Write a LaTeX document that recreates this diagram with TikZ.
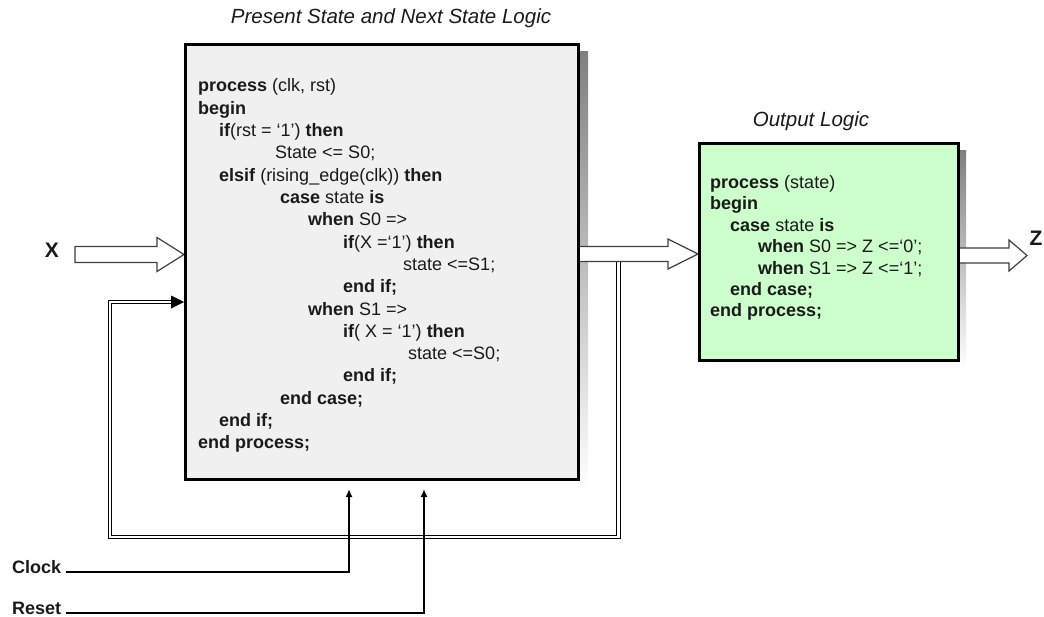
\documentclass[tikz,border=0pt]{standalone}
\usepackage{fontspec}
\setmainfont{Liberation Sans}
\usetikzlibrary{arrows.meta,calc}

\definecolor{boxgray}{HTML}{F0F0F0}
\definecolor{boxgreen}{HTML}{CCFFCC}
\definecolor{shade}{HTML}{808080}
\definecolor{outline}{HTML}{404040}
\definecolor{ink}{HTML}{1A1A1A}

% hollow block arrow: start, tip, shaft half-height, head half-height, head length
\newcommand\fatarrow[5]{%
  \draw[hollow] ($(#1)+(0,#3)$) -- ($(#2)+(-#5,#3)$) -- ($(#2)+(-#5,#4)$) -- (#2)
    -- ($(#2)+(-#5,-#4)$) -- ($(#2)+(-#5,-#3)$) -- ($(#1)+(0,-#3)$) -- cycle;}

\begin{document}
\begin{tikzpicture}[x=1bp,y=-1bp,
  block/.style={draw=black, line width=3bp, inner sep=0pt, anchor=north west},
  code/.style={anchor=base west, inner sep=0pt, font=\fontsize{18bp}{21bp}\selectfont, text=ink},
  title/.style={font=\fontsize{20.5bp}{24bp}\selectfont\itshape, text=ink, inner sep=0pt},
  sig/.style={font=\fontsize{18bp}{21bp}\selectfont\bfseries, text=ink, inner sep=0pt, anchor=base west},
  port/.style={font=\fontsize{21bp}{24bp}\selectfont\bfseries, text=ink, inner sep=0pt},
  hollow/.style={draw=outline, line width=1.2bp, fill=white, line join=miter},
  feedback/.style={draw=black, double=white, double distance=2.6bp, line width=1.1bp},
  ctrl/.style={draw=black, line width=1.6bp, -{Latex[length=8bp,width=7bp]}}]

\useasboundingbox (0,0) rectangle (1044,617);

% drop shadows
\fill[shade] (194,52) rectangle (588,489);
\fill[shade] (707,151) rectangle (966,368);

% block corners
\path (184,43) coordinate (pboxNW);
\path (698,142) coordinate (ologNW);

% feedback of the state into the logic block
\coordinate (fbR)  at (618.5,261);
\coordinate (fbBR) at (618.5,537);
\coordinate (fbBL) at (110,537);
\coordinate (fbTL) at (110,302);
\coordinate (fbEnd) at (171,302);
\draw[feedback] (fbR) -- (fbBR) -- (fbBL) -- (fbTL) -- (fbEnd);

% hollow data arrows
\coordinate (xin) at (75,254.5);
\coordinate (xtip) at (184,254.5);
\fatarrow{xin}{xtip}{8}{17}{27}
\coordinate (mid) at (577,254);
\coordinate (midtip) at (698,254);
\fatarrow{mid}{midtip}{7.5}{15}{30}
\coordinate (zout) at (957,255.5);
\coordinate (ztip) at (1027,255.5);
\fatarrow{zout}{ztip}{7.5}{15.5}{18}

% blocks
\node[block, fill=boxgray, minimum width=393bp, minimum height=435bp] (pbox) at (pboxNW) {};
\node[block, fill=boxgreen, minimum width=259bp, minimum height=217bp] (olog) at (ologNW) {};

% feedback arrowhead
\fill (pbox.west |- fbEnd) -- ++(-13,-6.5) -- ++(0,13) -- cycle;

% titles
\node[title] (ttl1) at (391,18) {Present State and Next State Logic};
\node[title] (ttl2) at (811,121) {Output Logic};

% port labels
\node[port] (xlab) at (52,250) {X};
\node[port] (zlab) at (1036,238) {Z};

% clock and reset
\node[sig] (clk) at (12,573) {Clock};
\node[sig] (rst) at (12,614) {Reset};
\coordinate (clkin) at (349,489);
\coordinate (rstin) at (424,489);
\draw[ctrl] ([xshift=5bp,yshift=1bp]clk.base east) -| (clkin);
\draw[ctrl] ([xshift=5bp,yshift=1bp]rst.base east) -| (rstin);

% present state / next state process
\foreach \x/\t [count=\i from 0] in {
  198/{\textbf{process} (clk, rst)},
  198/{\textbf{begin}},
  219/{\textbf{if}(rst = ‘1’) \textbf{then}},
  275/{State <= S0;},
  219/{\textbf{elsif} (rising\_edge(clk)) \textbf{then}},
  280/{\textbf{case} state \textbf{is}},
  308/{\textbf{when} S0 =>},
  343/{\textbf{if}(X =‘1’) \textbf{then}},
  403/{state <=S1;},
  343/{\textbf{end if;}},
  308/{\textbf{when} S1 =>},
  343/{\textbf{if}( X = ‘1’) \textbf{then}},
  408/{state <=S0;},
  343/{\textbf{end if;}},
  280/{\textbf{end case;}},
  219/{\textbf{end if;}},
  198/{\textbf{end process;}}}
  \node[code] (pc\i) at (\x,{92+22.3*\i}) {\t};

% output process
\foreach \x/\t [count=\i from 0] in {
  710/{\textbf{process} (state)},
  710/{\textbf{begin}},
  730/{\textbf{case} state \textbf{is}},
  758/{\textbf{when} S0 => Z <=‘0’;},
  758/{\textbf{when} S1 => Z <=‘1’;},
  730/{\textbf{end case;}},
  710/{\textbf{end process;}}}
  \node[code] (oc\i) at (\x,{188.5+21.4*\i}) {\t};

\end{tikzpicture}
\end{document}
